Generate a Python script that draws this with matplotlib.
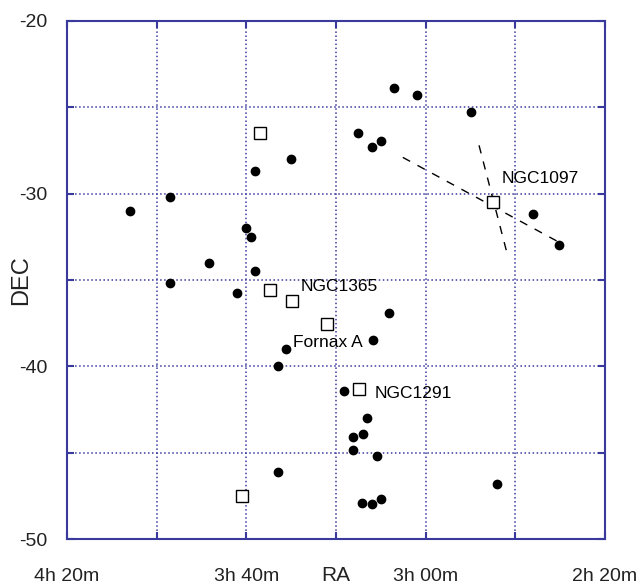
import numpy as np
import matplotlib
matplotlib.use("Agg")
import matplotlib.pyplot as plt

plt.rcParams['font.family'] = ['Liberation Sans', 'DejaVu Sans']

# RA in minutes of time (4h20m = 260), DEC in degrees
gal_ra = [210.0, 218.1, 237.0, 246.0, 220.1, 219.0, 228.3, 218.1, 237.0, 222.1,
          211.2, 212.9, 212.9, 187.1, 181.9, 169.9, 195.1, 192.0, 190.0, 156.1,
          150.3, 188.2, 191.8, 198.2, 193.1, 196.2, 194.0, 196.2, 190.9, 164.1,
          194.2, 192.0, 190.0]
gal_dec = [-28.0, -28.7, -30.2, -31.0, -32.0, -32.5, -34.0, -34.5, -35.2, -35.75,
           -39.0, -40.0, -46.1, -23.9, -24.3, -25.3, -26.5, -27.3, -26.95, -31.2,
           -33.0, -36.9, -38.5, -41.4, -43.0, -44.1, -43.9, -44.85, -45.2, -46.8,
           -47.9, -48.0, -47.7]

big_ra = [217.0, 214.8, 209.8, 202.0, 194.9, 165.0, 221.0]
big_dec = [-26.5, -35.6, -36.2, -37.55, -41.3, -30.5, -47.5]

labels = ['NGC1365', 'Fornax A', 'NGC1291', 'NGC1097']
label_ra = [208.0, 209.6, 191.3, 163.0]
label_dec = [-35.35, -38.6, -41.6, -29.1]

# dashed lines through NGC1097
line1_ra = [185.1, 150.7]
line1_dec = [-27.9, -32.75]
line2_ra = [168.1, 161.9]
line2_dec = [-27.2, -33.4]

xticks = [260, 240, 220, 200, 180, 160, 140]
xticklabels = ['4h 20m', '', '3h 40m', '', '3h 00m', '', '2h 20m']
yticks = [-50, -45, -40, -35, -30, -25, -20]
yticklabels = ['-50', '', '-40', '', '-30', '', '-20']

navy = '#3a3a9c'

fig = plt.figure(figsize=(6.43, 5.86), dpi=100)
ax = fig.add_axes([0.1042, 0.0802, 0.8367, 0.884])

ax.plot(line1_ra, line1_dec, color='black', lw=1, dashes=(6, 6))
ax.plot(line2_ra, line2_dec, color='black', lw=1, dashes=(6, 6))

ax.plot(gal_ra, gal_dec, 'o', color='black', ms=6, zorder=3)
ax.plot(big_ra, big_dec, 's', mfc='white', mec='black', mew=1, ms=8.5, zorder=3)

for t, r, d in zip(labels, label_ra, label_dec):
    ax.text(r, d, t, fontsize=12.5, ha='left', va='center', zorder=4)

ax.set_xlim(260, 140)
ax.set_ylim(-50, -20)
ax.set_xticks(xticks)
ax.set_xticklabels(xticklabels)
ax.set_yticks(yticks)
ax.set_yticklabels(yticklabels)
ax.tick_params(direction='in', length=5, color=navy, width=1.5,
               top=True, right=True, labelsize=14, labelcolor='#222222')
ax.tick_params(axis='x', pad=21)
ax.tick_params(axis='y', pad=14)
ax.grid(True, color=navy, linestyle=':', linewidth=1.1)

for s in ax.spines.values():
    s.set_color(navy)
    s.set_linewidth(1.5)

ax.set_xlabel('RA', fontsize=15, color='#222222')
ax.xaxis.set_label_coords(0.5, -0.052)
ax.set_ylabel('DEC', fontsize=17, color='#222222')
ax.yaxis.set_label_coords(-0.065, 0.5)

fig.savefig('out.png', dpi=100)
